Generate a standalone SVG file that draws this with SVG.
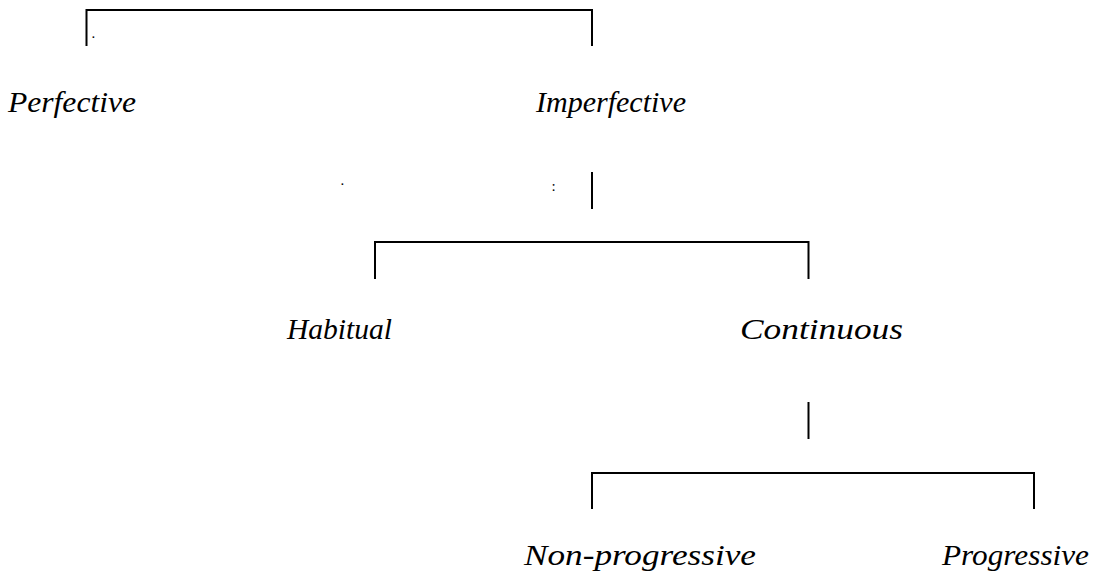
<svg xmlns="http://www.w3.org/2000/svg" width="1093" height="576" viewBox="0 0 1093 576">
<style>
.ln{stroke:#000;stroke-width:2;fill:none}
.lb{font-family:"Liberation Serif","Times New Roman",serif;font-style:italic;font-size:30px;fill:#000}
.dt{font-family:"Liberation Serif","Times New Roman",serif;font-size:15px;fill:#000}
</style>
<rect width="1093" height="576" fill="#fff"/>
<g id="connectors">
<path class="ln" d="M86.5,46 V10 H592 V46"/>
<path class="ln" d="M592,172 V209"/>
<path class="ln" d="M375,279 V242 H808.5 V279"/>
<path class="ln" d="M808.5,402 V439"/>
<path class="ln" d="M592,509 V473 H1034 V509"/>
</g>
<g id="marks">
<text class="dt" x="91.5" y="38">.</text>
<text class="dt" x="340.5" y="185">.</text>
<text class="dt" x="551.5" y="191">:</text>
</g>
<g id="perfective"><text class="lb" x="8" y="112" textLength="128" lengthAdjust="spacingAndGlyphs">Perfective</text></g>
<g id="imperfective"><text class="lb" x="536" y="112" textLength="150" lengthAdjust="spacingAndGlyphs">Imperfective</text></g>
<g id="habitual"><text class="lb" x="287" y="339" textLength="105" lengthAdjust="spacingAndGlyphs">Habitual</text></g>
<g id="continuous"><text class="lb" x="740" y="339" textLength="163" lengthAdjust="spacingAndGlyphs">Continuous</text></g>
<g id="nonprogressive"><text class="lb" x="524" y="565" textLength="232" lengthAdjust="spacingAndGlyphs">Non-progressive</text></g>
<g id="progressive"><text class="lb" x="942" y="565" textLength="147" lengthAdjust="spacingAndGlyphs">Progressive</text></g>
</svg>
